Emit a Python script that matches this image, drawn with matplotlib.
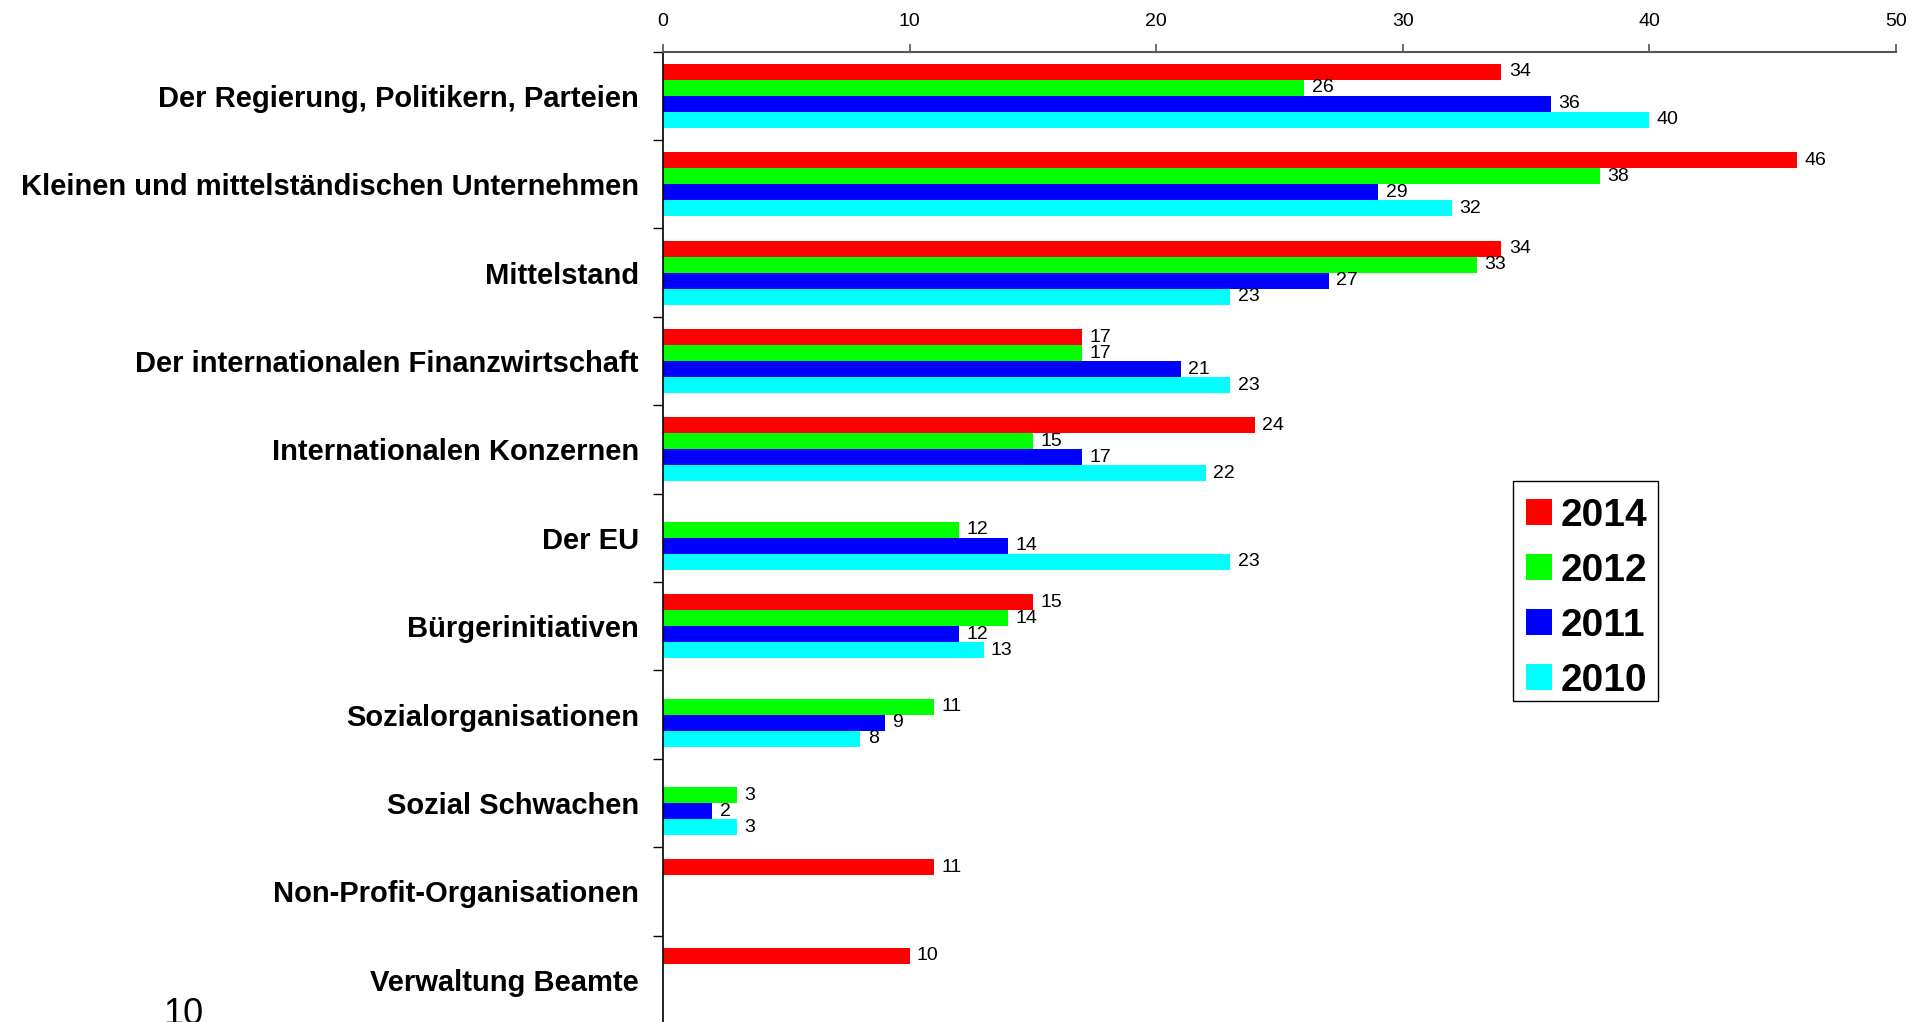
import numpy as np
import matplotlib
matplotlib.use("Agg")
import matplotlib.pyplot as plt
from matplotlib.patches import Rectangle

kategorien = [
    "Der Regierung, Politikern, Parteien",
    "Kleinen und mittelständischen Unternehmen",
    "Mittelstand",
    "Der internationalen Finanzwirtschaft",
    "Internationalen Konzernen",
    "Der EU",
    "Bürgerinitiativen",
    "Sozialorganisationen",
    "Sozial Schwachen",
    "Non-Profit-Organisationen",
    "Verwaltung Beamte",
]
jahre = ["2014", "2012", "2011", "2010"]
werte_2014 = [34, 46, 34, 17, 24, None, 15, None, None, 11, 10]
werte_2012 = [26, 38, 33, 17, 15, 12, 14, 11, 3, None, None]
werte_2011 = [36, 29, 27, 21, 17, 14, 12, 9, 2, None, None]
werte_2010 = [40, 32, 23, 23, 22, 23, 13, 8, 3, None, None]
farben = ["#ff0000", "#00ff00", "#0000ff", "#00ffff"]

plt.rcParams['font.family'] = ['Liberation Sans', 'DejaVu Sans']

W, H = 1926, 1022
fig = plt.figure(figsize=(W / 100, H / 100), dpi=100)
ax = fig.add_axes([663 / W, -2 / H, (1896 - 663) / W, (1024 - 51.7) / H])

def px(x, y):
    # Pixel von oben links -> Figurkoordinaten
    return x / W, 1 - y / H

n = len(kategorien)
balken_h = 0.181
serien = [werte_2014, werte_2012, werte_2011, werte_2010]
for i, (werte, farbe) in enumerate(zip(serien, farben)):
    for k, v in enumerate(werte):
        if v is None:
            continue
        y = k + 0.5 + (i - 1.5) * balken_h
        ax.barh(y, v, height=balken_h, color=farbe, edgecolor='none')
        ax.text(v + 0.3, y, str(v), va='center', ha='left', fontsize=14)

ax.set_xlim(0, 50)
ax.set_ylim(n, 0)
ax.xaxis.tick_top()
ax.set_xticks(np.arange(0, 51, 10))
ax.tick_params(axis='x', direction='out', length=5.5, width=1.2, color='#555555',
               labelsize=14, pad=10)
ax.set_yticks(np.arange(0, n + 1))
ax.set_yticklabels([])
ax.set_yticks(np.arange(n) + 0.5, minor=True)
ax.set_yticklabels(kategorien, minor=True, fontsize=21, fontweight='bold')
ax.tick_params(axis='y', which='major', direction='out', length=7, width=1)
ax.tick_params(axis='y', which='minor', length=0, pad=17.5)

for s in ['right', 'bottom']:
    ax.spines[s].set_visible(False)
ax.spines['top'].set_color('#555555')
ax.spines['top'].set_linewidth(1.5)
ax.spines['left'].set_color('black')
ax.spines['left'].set_linewidth(1.2)

# Legende von Hand, damit Rahmen und Abstaende passen
x0, y0 = px(1513, 701)
x1, y1 = px(1658, 481)
fig.patches.append(Rectangle((x0, y0), x1 - x0, y1 - y0, transform=fig.transFigure,
                             facecolor='white', edgecolor='black', linewidth=1))
for i, (jahr, farbe) in enumerate(zip(jahre, farben)):
    top = 499 + 55 * i
    qx, qy = px(1526, top + 26)
    fig.patches.append(Rectangle((qx, qy), 26 / W, 26 / H, transform=fig.transFigure,
                                 facecolor=farbe, edgecolor='none'))
    tx, ty = px(1561, top + 13)
    fig.text(tx, ty, jahr, ha='left', va='center_baseline', fontsize=28,
             fontweight='bold')

fig.text(183 / W, 1 - 997 / H, "10", ha='center', va='top', fontsize=26)

fig.savefig("out.png", dpi=100)
